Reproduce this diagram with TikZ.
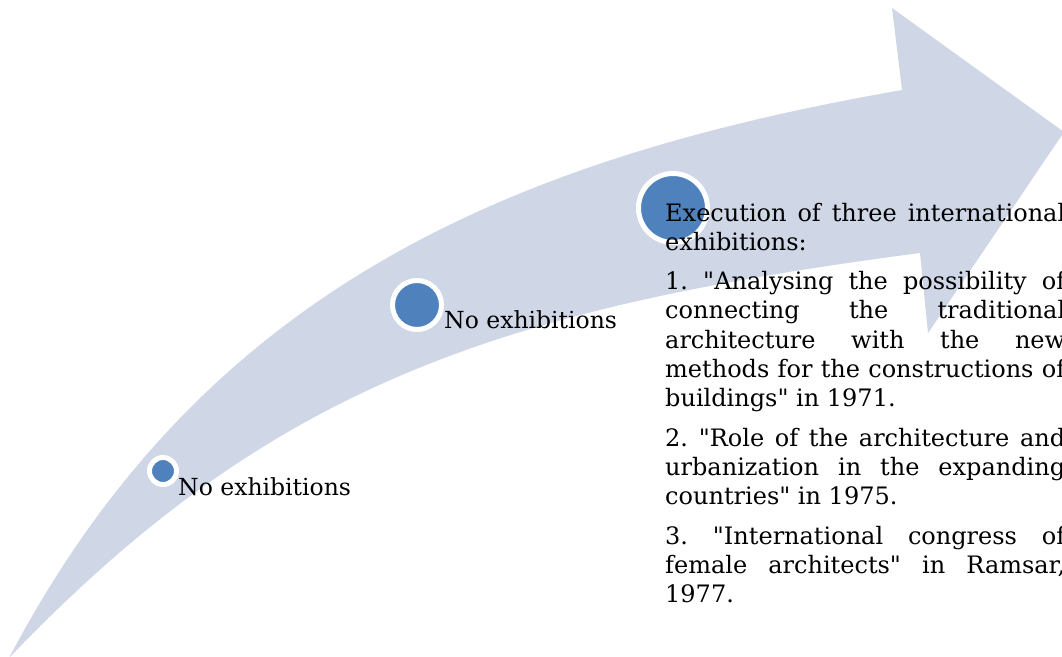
\documentclass[tikz,border=0pt]{standalone}
\usepackage{fontspec}
\setmainfont{DejaVu Serif}[Ligatures=TeXOff]
\definecolor{arrowfill}{HTML}{CFD6E6}
\definecolor{dotblue}{HTML}{4F81BD}
\newlength\tw
\setlength\tw{400pt}
\newcommand\jline[1]{\hbox to \tw{#1}}
\newcommand\lline[1]{\hbox{#1}}
\tikzset{
  dot/.style={circle, fill=dotblue, draw=white, line width=5pt, inner sep=0pt},
  lbl/.style={anchor=base west, inner sep=0pt, font=\fontsize{23.5}{29.3}\selectfont}
}
\begin{document}
\frenchspacing
\begin{tikzpicture}[x=1pt,y=-1pt]
\useasboundingbox (0,0) rectangle (1062,656);
% curved arrow
\fill[arrowfill] (9,658) .. controls (200,295) and (500,160) .. (902,90)
  -- (892,8) -- (1064,132) -- (928,333) -- (920,253)
  .. controls (500,308) and (270,385) .. (9,658) -- cycle;
% dots
\node[dot, minimum size=27pt] (d1) at (163,471) {};
\node[dot, minimum size=49pt] (d2) at (417,305) {};
\node[dot, minimum size=69pt] (d3) at (673,208) {};
% labels
\node[lbl] (t1) at (178,495) {No exhibitions};
\node[lbl] (t2) at (444,328) {No exhibitions};
\node[anchor=base west, inner sep=0pt] (t3) at (665,221) {\vtop{\fontsize{24}{29.3}\selectfont\frenchspacing
  \jline{Execution of three international}
  \lline{exhibitions:}
  \vskip 10pt
  \jline{1. "Analysing the possibility of}
  \jline{connecting the traditional}
  \jline{architecture with the new}
  \jline{methods for the constructions of}
  \lline{buildings" in 1971.}
  \vskip 10pt
  \jline{2. "Role of the architecture and}
  \jline{urbanization in the expanding}
  \lline{countries" in 1975.}
  \vskip 10pt
  \jline{3. "International congress of}
  \jline{female architects" in Ramsar,}
  \lline{1977.}
}};
\end{tikzpicture}
\end{document}
